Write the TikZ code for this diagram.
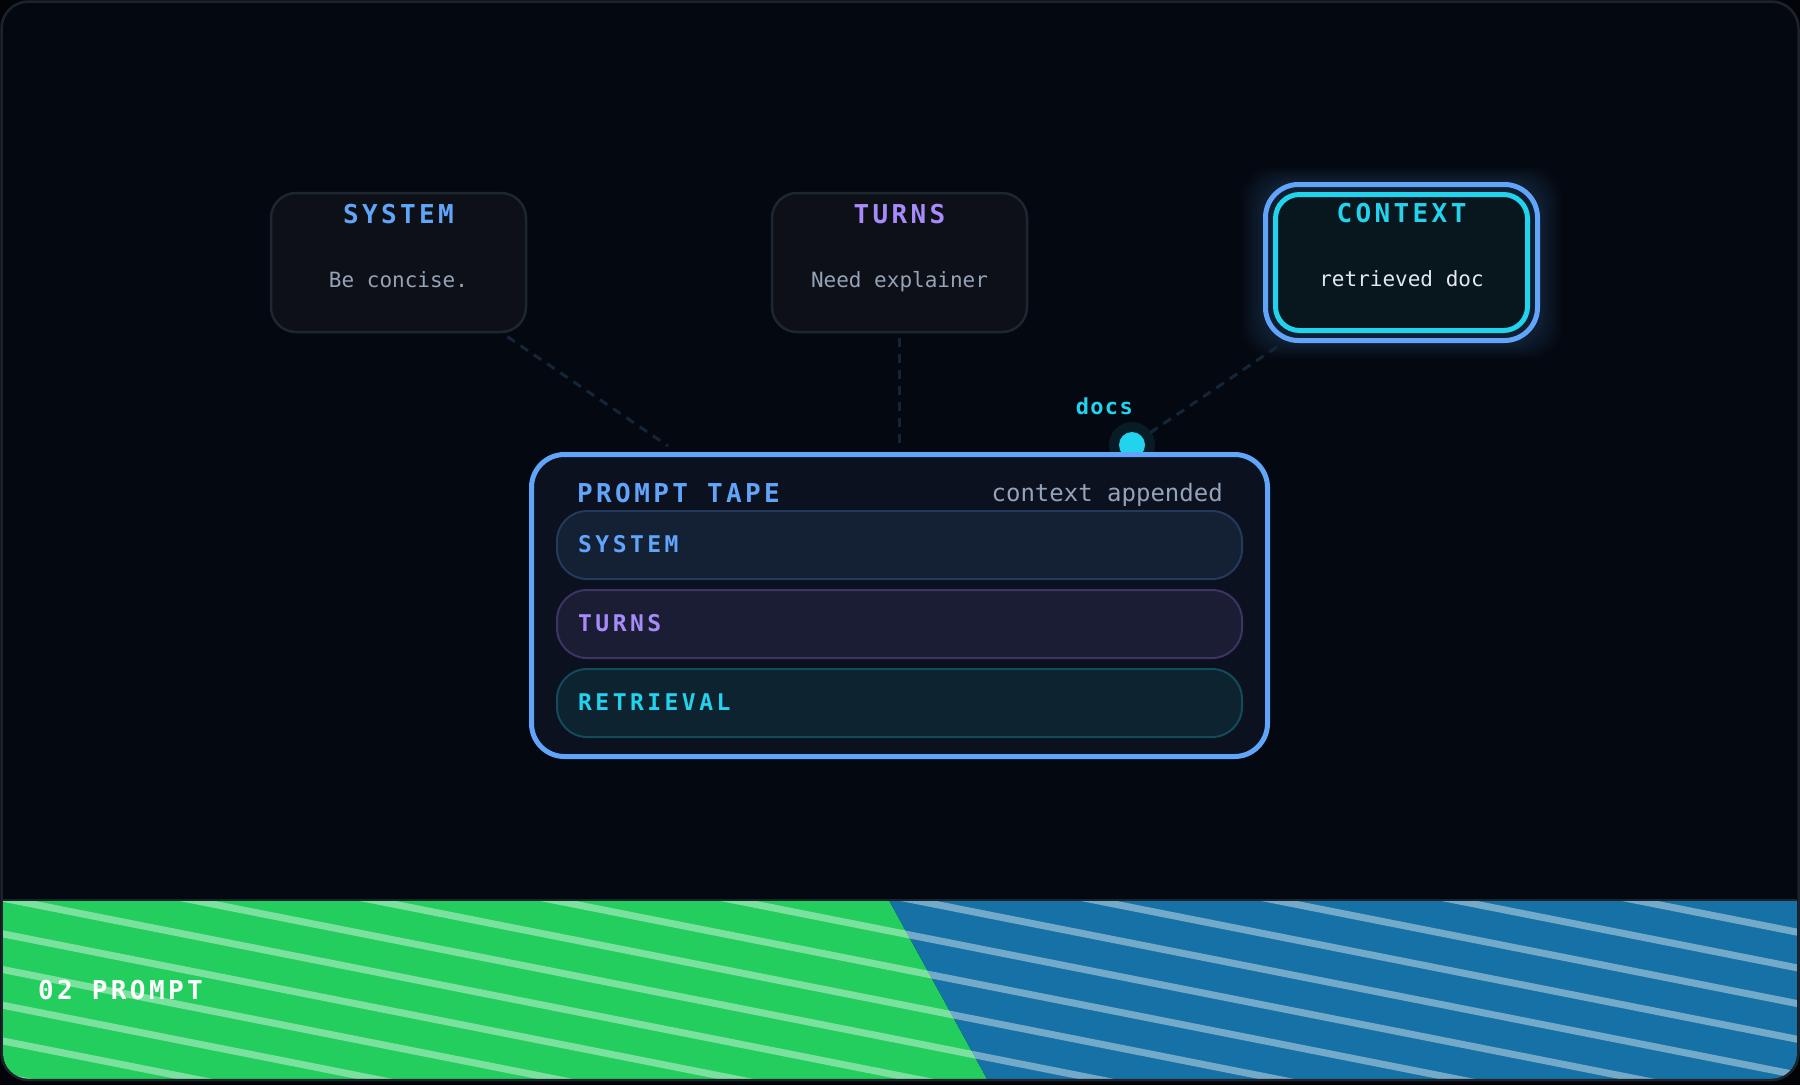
\documentclass[tikz,border=0pt]{standalone}
\usepackage{fontspec}
\setmonofont{DejaVu Sans Mono}
\newfontfamily\tapemono{DejaVu Sans Mono}
\newfontfamily\tapecaps{DejaVu Sans Mono}[LetterSpace=13]
\newfontfamily\pillcaps{DejaVu Sans Mono}[LetterSpace=15]
\newfontfamily\dotcaps{DejaVu Sans Mono}[LetterSpace=6]
\usetikzlibrary{positioning,calc}

\definecolor{pagebg}{RGB}{2,4,9}
\definecolor{bgdark}{RGB}{4,8,16}
\definecolor{frameline}{RGB}{30,34,43}
\definecolor{boxfill}{RGB}{13,16,22}
\definecolor{boxline}{RGB}{30,38,48}
\definecolor{sysblue}{RGB}{96,165,250}
\definecolor{turnpurple}{RGB}{167,139,250}
\definecolor{ctxcyan}{RGB}{34,211,238}
\definecolor{ctxfill}{RGB}{8,22,30}
\definecolor{bodygray}{RGB}{148,163,184}
\definecolor{bodywhite}{RGB}{226,232,240}
\definecolor{tapefill}{RGB}{11,17,30}
\definecolor{linkcol}{RGB}{21,37,56}
\definecolor{halocol}{RGB}{8,28,37}
\definecolor{pillsysfill}{RGB}{20,32,52}
\definecolor{pillsysline}{RGB}{35,58,92}
\definecolor{pillturnfill}{RGB}{27,29,52}
\definecolor{pillturnline}{RGB}{60,52,100}
\definecolor{pillretfill}{RGB}{13,35,48}
\definecolor{pillretline}{RGB}{18,75,92}
\definecolor{bandgreen}{RGB}{35,206,94}
\definecolor{bandblue}{RGB}{22,114,166}

\tikzset{
  srcbox/.style={draw=boxline,fill=boxfill,line width=2.5pt,rounded corners=25pt,
    minimum width=255pt,minimum height=139pt,inner sep=0pt},
  titletext/.style={font=\tapecaps\bfseries\fontsize{26pt}{26pt}\selectfont,inner sep=0pt,anchor=base},
  bodytext/.style={font=\tapemono\fontsize{21pt}{21pt}\selectfont,inner sep=0pt,anchor=base},
  pilltext/.style={font=\pillcaps\bfseries\fontsize{23pt}{23pt}\selectfont,inner sep=0pt,anchor=base west},
  pill/.style={line width=2pt,rounded corners=30pt,minimum width=685pt,minimum height=68pt,inner sep=0pt},
  link/.style={draw=linkcol,line width=3pt,dash pattern=on 9pt off 7pt},
  stripe/.style={draw=white,opacity=0.4,line width=7pt}
}

\begin{document}
\begin{tikzpicture}[x=1pt,y=-1pt]
\useasboundingbox (0,0) rectangle (1800,1085);
\fill[pagebg] (0,0) rectangle (1800,1085);
\fill[bgdark,rounded corners=27pt] (1.5,1.5) rectangle (1798.5,1080);

% glow behind the context card
\foreach \g in {2,4,...,22}
  \fill[sysblue,opacity=0.016,rounded corners=32pt] (1263-\g,182-0.7*\g) rectangle (1540+\g,343+0.7*\g);

% source cards
\node[srcbox] (sys) at (398.5,262.5) {};
\node[srcbox] (turn) at (899.5,262.5) {};
\node[draw=sysblue,line width=5pt,rounded corners=33pt,minimum width=272pt,minimum height=156pt,inner sep=0pt] (ctxring) at (1401.5,262.5) {};
\node[draw=ctxcyan,fill=ctxfill,line width=5pt,rounded corners=24pt,minimum width=252pt,minimum height=136pt,inner sep=0pt] (ctx) at (1401.5,262.5) {};

\node[titletext,text=sysblue] (sysT) at ([yshift=-32pt]sys.north) {SYSTEM};
\node[bodytext,text=bodygray] (sysB) at ([yshift=-95.5pt]sys.north) {Be concise.};
\node[titletext,text=turnpurple] (turnT) at ([yshift=-32pt]turn.north) {TURNS};
\node[bodytext,text=bodygray] (turnB) at ([yshift=-95.5pt]turn.north) {Need explainer};
\node[titletext,text=ctxcyan] (ctxT) at ([yshift=-30.5pt]ctx.north) {CONTEXT};
\node[bodytext,text=bodywhite] (ctxB) at ([yshift=-94pt]ctx.north) {retrieved doc};

% links into the tape
\coordinate (sysIn) at (668,446);
\coordinate (turnIn) at (899.5,446);
\node[circle,fill=halocol,minimum size=46pt,inner sep=0pt] (halo) at (1132,445) {};
\draw[link,shorten <=6pt] (sys) -- (sysIn);
\draw[link,shorten <=5pt] (turn) -- (turnIn);
\draw[link,shorten <=7pt,shorten >=16pt] (ctxring) -- (halo.center);
\node[circle,fill=ctxcyan,minimum size=26pt,inner sep=0pt] (dot) at (halo.center) {};
\node[font=\dotcaps\bfseries\fontsize{22pt}{22pt}\selectfont,text=ctxcyan,inner sep=0pt,anchor=base east] (docsT) at ([xshift=1pt,yshift=31pt]dot.center) {docs};

% prompt tape
\node[draw=sysblue,fill=tapefill,line width=5pt,rounded corners=33pt,minimum width=736pt,minimum height=302pt,inner sep=0pt] (tape) at (899.5,605.5) {};
\node[titletext,anchor=base west,text=sysblue] (tapeT) at ([xshift=48pt,yshift=-50.5pt]tape.north west) {PROMPT TAPE};
\node[font=\tapemono\fontsize{24pt}{24pt}\selectfont,text=bodygray,inner sep=0pt,anchor=base east] (tapeN) at ([xshift=-47pt,yshift=-49.5pt]tape.north east) {context appended};

\node[pill,fill=pillsysfill,draw=pillsysline] (pSys) at (899.5,545) {};
\node[pill,fill=pillturnfill,draw=pillturnline] (pTurn) at (899.5,624) {};
\node[pill,fill=pillretfill,draw=pillretline] (pRet) at (899.5,703) {};
\node[pilltext,text=sysblue] (pSysT) at ([xshift=22pt,yshift=-7pt]pSys.west) {SYSTEM};
\node[pilltext,text=turnpurple] (pTurnT) at ([xshift=22pt,yshift=-7pt]pTurn.west) {TURNS};
\node[pilltext,text=ctxcyan] (pRetT) at ([xshift=22pt,yshift=-7pt]pRet.west) {RETRIEVAL};

% striped footer band
\begin{scope}
  \clip[rounded corners=26pt] (3,3) rectangle (1797,1079.5);
  \fill[bandgreen] (0,901) -- (889.3,901) -- (990.3,1085) -- (0,1085) -- cycle;
  \fill[bandblue] (889.3,901) -- (1800,901) -- (1800,1085) -- (990.3,1085) -- cycle;
  \clip (0,901) rectangle (1800,1085);
  \foreach \k in {-11,...,4}
    \draw[stripe] (0,933.3+35.7*\k) -- (1800,1289.7+35.7*\k);
\end{scope}
\draw[frameline,line width=2pt] (3,900) -- (1797,900);
\node[titletext,anchor=base west,text=white] (bandT) at (38,999) {02 PROMPT};

\draw[frameline,line width=2.5pt,rounded corners=27pt] (1.5,1.5) rectangle (1798.5,1080);
\end{tikzpicture}
\end{document}
